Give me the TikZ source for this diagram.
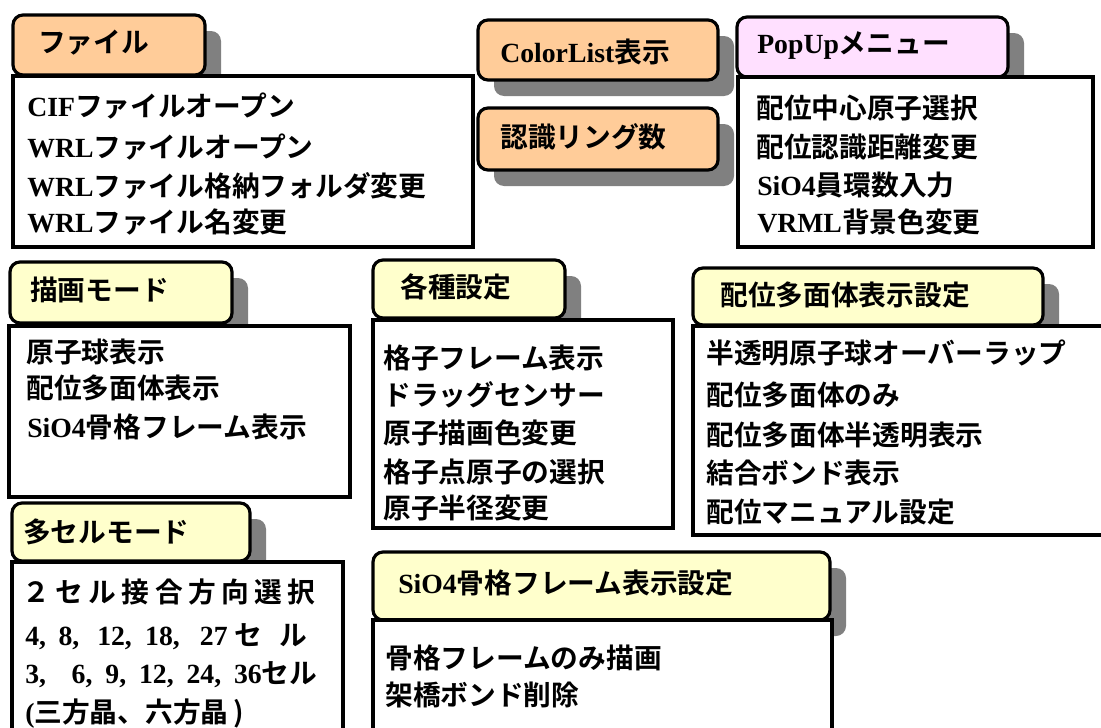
\documentclass[tikz,border=0pt]{standalone}
\usepackage{fontspec}
\setmainfont{Noto Sans CJK JP}[BoldFont={* Bold}]
\newfontfamily\tmfont{Liberation Serif}
\newcommand\lat[1]{{\tmfont\bfseries #1}}
\newcommand\putat[2]{\rlap{\hskip #1pt #2}}
\definecolor{tabor}{HTML}{FFCC99}
\definecolor{tabyl}{HTML}{FFFFCC}
\definecolor{tabpk}{HTML}{FFE0FF}
\definecolor{shd}{HTML}{808080}
\tikzset{
  tabshape/.style={draw=black, line width=2.4pt, rounded corners=7.5pt},
  shadowshape/.style={fill=shd, rounded corners=7.5pt},
  boxshape/.style={draw=black, fill=white, line width=2.4pt},
  txt/.style={anchor=west, inner sep=0pt, text height=18.3pt, text depth=2.5pt,
    font=\bfseries\fontsize{20.8pt}{25pt}\selectfont},
}
\newcommand\tabpanel[5]{%
  \fill[shadowshape] (#2+16,#3+16) rectangle (#4+16,#5+16);
  \filldraw[tabshape, fill=#1] (#2,#3) rectangle (#4,#5);}
\begin{document}
\begin{tikzpicture}[x=0.75pt,y=-0.75pt]
\useasboundingbox (0,0) rectangle (1101,728);
\clip (0,0) rectangle (1101,728);
\fill[white] (0,0) rectangle (1101,728);

% ファイル
\tabpanel{tabor}{13}{15}{205}{75}
\filldraw[boxshape] (13,76) rectangle (473,247);
% ColorList / 認識
\tabpanel{tabor}{478}{20}{718}{80}
\tabpanel{tabor}{478}{108}{718}{170}
% PopUp
\tabpanel{tabpk}{737}{17}{1008}{77}
\filldraw[boxshape] (738,77) rectangle (1093,247);
% 描画モード
\tabpanel{tabyl}{10}{262}{232}{323}
\filldraw[boxshape] (9,326) rectangle (350,497);
% 各種設定
\tabpanel{tabyl}{373}{260}{565}{318}
\filldraw[boxshape] (373,320) rectangle (673,528);
% 配位多面体表示設定
\tabpanel{tabyl}{693}{268}{1043}{325}
\filldraw[boxshape] (693,326) rectangle (1112,535);
% 多セルモード
\tabpanel{tabyl}{12}{503}{250}{561}
\filldraw[boxshape] (12,562) rectangle (343,745);
% SiO4骨格フレーム表示設定
\tabpanel{tabyl}{373}{552}{830}{620}
\filldraw[boxshape] (373,620) rectangle (832,745);

% texts
\node[txt] (t1) at (38,42) {ファイル};
\node[txt] (f1) at (27,106) {\lat{CIF}ファイルオープン};
\node[txt] (f2) at (27,147) {\lat{WRL}ファイルオープン};
\node[txt] (f3) at (27,186) {\lat{WRL}ファイル格納フォルダ変更};
\node[txt] (f4) at (27,222) {\lat{WRL}ファイル名変更};

\node[txt] (t2) at (500,52) {\lat{ColorList}表示};
\node[txt] (t3) at (500,137) {認識リング数};
\node[txt] (t4) at (757,43) {\lat{PopUp}メニュー};
\node[txt] (p1) at (756,108) {配位中心原子選択};
\node[txt] (p2) at (756,147) {配位認識距離変更};
\node[txt] (p3) at (757,185) {\lat{SiO4}員環数入力};
\node[txt] (p4) at (757,222) {\lat{VRML}背景色変更};

\node[txt] (t5) at (30,290) {描画モード};
\node[txt] (d1) at (26,352) {原子球表示};
\node[txt] (d2) at (26,388) {配位多面体表示};
\node[txt] (d3) at (27,427) {\lat{SiO4}骨格フレーム表示};

\node[txt] (t6) at (400,287) {各種設定};
\node[txt] (s1) at (383,358) {格子フレーム表示};
\node[txt] (s2) at (383,395) {ドラッグセンサー};
\node[txt] (s3) at (383,433) {原子描画色変更};
\node[txt] (s4) at (383,472) {格子点原子の選択};
\node[txt] (s5) at (383,508) {原子半径変更};

\node[txt] (t7) at (720,295) {配位多面体表示設定};
\node[txt] (h1) at (706,353) {半透明原子球オーバーラップ};
\node[txt] (h2) at (706,395) {配位多面体のみ};
\node[txt] (h3) at (706,435) {配位多面体半透明表示};
\node[txt] (h4) at (706,473) {結合ボンド表示};
\node[txt] (h5) at (706,512) {配位マニュアル設定};

\node[txt] (t8) at (23,532) {多セルモード};
\node[txt] (m1) at (22,592) {\hbox to 220pt{２\hfill セ\hfill ル\hfill 接\hfill 合\hfill 方\hfill 向\hfill 選\hfill 択}};
\node[txt] (m2) at (25,635) {\hbox to 219pt{\putat{0}{\lat{4,}}\putat{25}{\lat{8,}}\putat{54}{\lat{12,}}\putat{90}{\lat{18,}}\putat{131}{\lat{27}}\putat{157}{セ}\putat{191}{ル}\hfill}};
\node[txt] (m3) at (25,673) {\hbox to 219pt{\lat{3,}\hfill\hfill\lat{6,}\hfill\lat{9,}\hfill\lat{12,}\hfill\lat{24,}\hfill\lat{36}セル}};
\node[txt] (m4) at (25,712) {\lat{(}三方晶、六方晶\,)};

\node[txt] (t9) at (398,583) {\lat{SiO4}骨格フレーム表示設定};
\node[txt] (k1) at (385,658) {骨格フレームのみ描画};
\node[txt] (k2) at (385,695) {架橋ボンド削除};
\end{tikzpicture}
\end{document}
